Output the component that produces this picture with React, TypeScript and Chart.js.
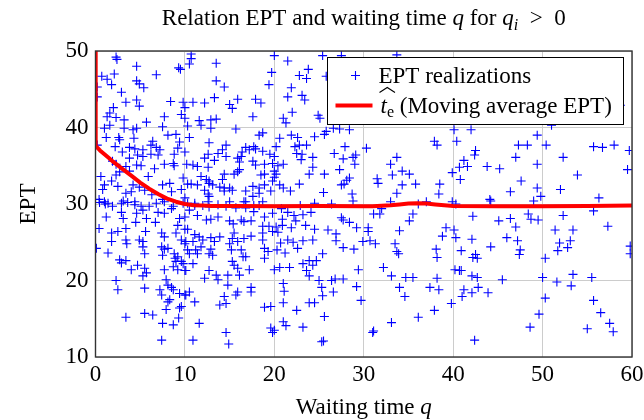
import { useEffect, useRef } from "react";
import { Chart, registerables } from "chart.js";

Chart.register(...registerables);

const FONT = "'Liberation Serif', 'Times New Roman', 'DejaVu Serif', serif";
const FS = 23;

// EPT realizations: [waiting time q, EPT]
const eptPoints: [number, number][] = [
  // q 0-10, EPT 30-50
  [2.3,49.2],[2.4,48.9],[4.6,48],[6.8,46.9],[9.3,47.8],[9.5,47.6],[0.7,46.7],[1.3,46.3],[2.1,47],[4.6,46.1],
  [4.9,45.7],[5.4,45.2],[1.8,45.6],[0.2,45.3],[0.2,44],[2.9,44.6],[3.4,43.3],[4.6,43.6],[4.9,42.8],[8.4,43.4],
  [9.8,43.3],[10,42.6],[2,42.6],[1.6,41.9],[1.3,41.4],[2.3,41.3],[3.2,41],[5.7,40.7],[7.7,41.4],[9.6,41.7],
  [10,41.2],[1,39.9],[1.6,40.3],[3.2,39.9],[4.2,39.7],[4.6,39.9],[7.5,40.1],[2.6,38.7],[2.7,38.4],[1.2,38.7],
  [4.3,38.6],[8.1,39],[9,39.1],[6.4,38.2],[6.2,37.7],[9.4,38.1],[2.2,37.5],[0.2,37.7],[3.8,37.4],[4.4,37.2],
  [5.3,37.1],[6.8,37.4],[7.2,37.1],[8.8,36.5],[9.2,37.3],[10,36.8],[4.7,36.4],[5.3,36.2],[6.2,36.5],[7,36.4],
  [1.9,35.6],[2.3,35.2],[3.8,36],[4.6,35.1],[5.1,35],[8.7,35.3],[8.8,35],[7.7,35.2],[0.6,33.6],[2.3,33.8],
  [2.7,34.2],[3.4,34.9],[3.8,34.3],[5.9,33.6],[1,32.5],[0.8,31.9],[1.8,33],[4.2,32.5],[4.9,32.2],[7.5,32.5],
  [8.3,32.7],[8.5,31.6],[9.8,33.4],[9.6,31.9],[3.4,31.4],[4,31.6],[1,30.3],[1.4,30.1],[0.4,30.6],[3.1,30.4],
  [4.4,30.3],[7.5,30.6],[6.3,31.2],[5.5,31.8],[2.5,32.3],[6.6,34.6],[3.0,36.8],
  // q 0-10, EPT 10-30
  [0.45,30.2],[1.1,30],[1.9,29.7],[2.9,30.1],[3.6,30.2],[4.4,29.9],[5.1,29.7],[6,29.7],[6.8,30.1],[7.7,30.3],
  [8.7,29.7],[9.8,30.1],[2.9,28.9],[4.6,28.8],[5.3,29.2],[7,28.9],[7.7,28.8],[8.5,29.4],[1.2,28.3],[3.1,28.1],
  [4.5,27.6],[5.7,28.1],[6.7,27.6],[9.2,27.2],[10,28.3],[9.4,28.1],[0.4,26.8],[1.8,26.2],[2.5,26.4],[3.4,26.8],
  [5.6,26.4],[7.4,26.2],[7.7,25.7],[9,26.2],[10,26.7],[1.8,25.1],[3.4,25.3],[3.5,24.8],[4.9,25.3],[5.3,25.1],
  [5.3,24.4],[7.4,24.4],[7.7,24.1],[8.1,24.2],[7.5,23.3],[9.6,25.3],[10,24.8],[0.1,24.2],[1.4,23.6],[5.5,23.5],
  [8.8,23.5],[8.9,22.9],[9.2,23.1],[9.6,22.5],[9.8,22.2],[8.7,21.8],[9.2,21.4],[9,22.5],[2.7,22.7],[2.9,22.3],
  [3.4,22.6],[4.7,22],[4,21.4],[5.5,21.6],[5.7,21],[5.3,20.6],[7.7,21.4],[10,21.3],[2.3,20],[2.5,18.8],
  [5.5,19],[7.9,20.1],[8.1,19.4],[8.5,19.1],[8.7,18.8],[7.2,18.8],[7.4,18.1],[9.4,18.3],[10,18.1],[8.3,17.5],
  [8.1,17.2],[9.6,16.6],[9.4,16.4],[7.9,16.2],[5.5,15.7],[6.4,15.5],[3.4,15.2],[9.3,15.1],[7.5,14.4],[8.7,14.2],
  [7.4,12.2],
  // q 10-20, EPT 30-50
  [10.7,49.6],[10.7,49],[10.5,48.3],[13.5,48.4],[20,49.4],[19.7,47.2],[13.5,46.1],[14.4,45.3],[19.4,45.6],[10.9,43.3],
  [12.2,43.2],[13.3,43.9],[15,43],[15.3,42.5],[15.9,43.7],[17.9,43.7],[18.5,43.2],[17.6,41.4],[11.6,40.9],[11.8,40.3],
  [12.9,41],[13.5,41.1],[10.3,40.2],[12.9,39.9],[15.7,39.8],[10.5,38.7],[18.3,39],[18.7,39.3],[12.7,38],[14.6,37.7],
  [14.2,37.1],[13.7,36.6],[16.8,37.4],[17.2,37.1],[17.7,37.5],[17.9,37.2],[16.4,36.8],[18.7,36.9],[19.5,36.5],[20,36.2],
  [12.6,36.5],[12.2,36],[10.9,35.1],[11.4,34.9],[12.6,34.8],[13.3,35.7],[14.6,36.2],[15.9,36],[16.3,36.2],[16.1,35.5],
  [17.6,35.6],[17.9,35.1],[18.9,35.2],[19.8,35.3],[20,34.3],[10.2,35.2],[11.8,33.6],[12.4,33.2],[12.7,33],[14.4,33.9],
  [14.2,33.2],[15.5,33.9],[15.9,34.2],[16.1,34.5],[18.5,33.8],[18.9,33.9],[20,33.5],[19.8,33],[10.3,32.6],[10.7,32.6],
  [11.4,32.5],[12.7,32.7],[13.1,32.5],[13.9,32.2],[14.4,32.1],[15,32.1],[17.6,32.3],[18.3,32.1],[18.9,32.5],[19.6,31.7],
  [12.2,31.8],[12.6,31.3],[12.7,31],[14.4,31.7],[15.3,31.8],[16.8,31.7],[17.6,31],[18.3,31.4],[11.1,30.1],[10,30.8],
  [12.6,30.3],[15,30.3],[16.6,30.3],[18.7,30.3],
  // q 10-20, EPT 10-30
  [10.3,30.1],[11.1,29.8],[12,29.8],[12.7,29.6],[13.7,29.9],[14.6,29.7],[15.7,29.5],[16.8,30.3],[16.8,29.5],[17.7,29.8],
  [18.3,29.8],[10.5,29.2],[11.4,28.5],[12.4,27.9],[12.9,28],[13.7,28.3],[15,27.8],[15.4,27.4],[16.3,27.9],[16.6,27.7],
  [17.4,27.8],[17.7,29],[18.9,28.3],[19.8,28.8],[19.4,27.1],[18.7,27.1],[10.3,26.7],[11.1,26],[11.6,25.7],[12,25.3],
  [11.8,24.4],[10.9,25.1],[12.9,25.6],[13.3,25.1],[13.9,25.7],[12.9,24.1],[13.1,23.3],[12.7,23.5],[15.5,26.2],[15.9,25.1],
  [15,24.8],[15.3,25.5],[16.6,25.5],[17.4,25.8],[18.7,26.2],[18.7,25.3],[18.9,24.2],[19.3,23.8],[19.8,26.4],[10.1,25.1],
  [10.3,24],[10.5,23.5],[11.2,24],[11.4,23.5],[10.9,22.2],[10.1,21.3],[15.2,24],[16.3,24],[16.5,23.1],[16.8,23.1],
  [15.3,22.5],[15.5,22],[15.9,21.6],[16.1,20.7],[12.7,21.3],[13.5,20.7],[13.7,20.1],[12.2,20.3],[17.2,21.4],[20,21.4],
  [18.9,22.9],[14.8,20.7],[14.8,19.4],[14.4,17.9],[14.6,17],[15.9,18.5],[15.7,18.1],[17.4,19.1],[17.4,18.5],[10.5,18.5],
  [10.1,18.1],[11.1,17.2],[13.9,16.8],[18.9,16.5],[19.6,16.6],[11.6,14.4],[14.6,13.2],[14.9,11.7],[10.9,12.2],[19.6,13.8],
  [19.8,13.2],
  // q 20-40
  [25.4,49.4],[27.5,49.4],[21.5,48.7],[23.8,47.6],[23.6,46.4],[22.8,46.8],[25.8,46.7],[21.9,45.2],[21.5,44],[23.1,44.2],
  [23.4,43.6],[22,42],[21,41.2],[21.3,40.6],[24.9,41.6],[25.1,41.2],[26.6,39.9],[27.3,39.8],[28.4,39.7],[33.7,49.5],
  [20.6,38.6],[21.9,39],[22.6,38.7],[24.5,38.8],[25.6,39.1],[25.8,39.5],[20.2,37.5],[22.3,37.5],[22.8,37.7],[23.6,37.7],
  [22.5,36.6],[23.1,36.5],[23,35.8],[24.3,36.1],[26.7,36.6],[27.9,37.5],[27.7,35.9],[28.8,36.1],[29.1,36.4],[29,35.2],
  [30.3,37.3],[21,35.2],[20.4,35.0],[24.3,34.8],[23.9,33.9],[25.6,33.9],[27.3,34.5],[28.4,33.4],[27.8,32.6],[27.5,32.5],
  [28.7,31.3],[28.1,33.1],[20.2,33.9],[20.6,32.5],[21,32.1],[22.8,32.6],[21.8,31.7],[25.5,31.5],[33,35.2],[33.2,33.8],
  [33.7,36.1],[34.3,34.3],[35.1,33.9],[31.5,33.3],[31.6,32.7],[34.3,32.5],[35.8,32.6],[33.7,31.4],[38.5,32.6],[38.4,31.3],
  [37.9,38.2],[38.2,37.7],[36.1,30],[37,30.3],[33,30.3],[32,29.4],[24.5,30.1],[26.4,30],[28.8,30.4],[20.8,29.4],
  [21.5,28.9],[22.2,28.5],[20.9,28],[22.4,27.8],[20.4,26.3],[20.9,27.2],[21.9,26.9],[20.2,27],[20.7,24.9],[21.5,25.3],
  [20.3,24],[21.2,23.6],[22.6,24.2],[23.5,27.2],[23.2,28.6],[24.1,28.9],[22.9,29.8],[27.5,28.2],[27.7,27.9],[28.4,27.6],
  [29.2,26.9],[30.5,26.9],[30.5,26.4],[31.1,28.7],[31.8,28.7],[35.1,27.8],[35.5,28.7],[34,26.5],[24.5,26.7],[26,26.6],
  [26.9,26.1],[26.9,25.2],[24.3,25.3],[23.2,25.2],[22.1,25],[27.7,24.3],[28.9,24.1],[29.9,25.1],[30.7,25.2],[31.3,24.8],
  [33.5,24.8],[33.9,23.5],[33.7,23.8],[38.1,24.1],[38.2,23],[39.2,26.9],[38.8,25.8],[25.4,23.5],[23.9,22.6],[24.3,22],
  [24.7,22.6],[23.2,22.2],[23.6,21.3],[20.6,21.7],[21.7,21.7],[29.4,21.4],[32.2,21.7],[33.1,20.6],[34.7,20.4],[35.5,20.4],
  [23.9,20.6],[25,20],[26.4,20],[26.8,20.2],[27.7,20.2],[38.2,20.3],[38.4,18.8],[37.4,19.1],[34,19.1],[34.6,17.9],
  [21,19.6],[21.1,18.6],[25.3,19.1],[25.4,18],[26.6,18.5],[29.2,19.2],[29.7,17.4],[23.9,17.1],[24.5,17.1],[21,17.1],
  [22.5,16.1],[37.9,16.1],[39.8,17],[36.1,15.2],[25.6,15.3],[21,14.6],[21.3,14.1],[23.2,13.9],[33.1,14.5],[20,13.5],
  [31,13.2],[31.1,13.4],[25.3,12],[25.5,12.1],
  // q 40-60
  [51,40.3],[58.7,42.9],[40.1,39.7],[42,39.7],[40.4,38.2],[49.4,39],[47.3,37.7],[48.3,37.7],[50.4,37.7],[42.5,37],
  [42.4,36.4],[41.2,35.7],[40.7,34.8],[41.6,34.9],[39.9,34.1],[40.8,33.2],[43.8,34.9],[45.2,34.6],[47,36.1],[49.4,35.2],
  [52.3,36.1],[55.7,37.5],[56.7,37.4],[58,37.7],[59.7,37],[59.5,34.5],[53.9,33.8],[47.6,33],[46.4,31.6],[49.4,32.1],
  [49.8,31],[52,31.9],[56.3,30.8],[44.1,30.6],[44.2,30.4],[49,30.4],[39.9,30.3],[40.3,30],[55.7,29.1],[42.2,28.4],
  [45.1,27.8],[46.4,28.1],[47,27],[48.4,28.7],[48.7,28],[49.5,27.9],[52.3,28.5],[57.3,27.1],[51.4,26.6],[53.4,26.6],
  [40.1,26.6],[40.3,25.6],[42.1,25.4],[46,25.6],[47.2,25.2],[51.9,24.9],[53.1,25.2],[52.8,24.3],[51.7,23.9],[44.2,24.4],
  [47.5,24],[47.4,23.4],[40.9,23.9],[42.2,23],[42.7,22.9],[42.5,23.4],[50.3,22.9],[59.8,24.5],[59.8,23.5],[40.2,21.4],
  [40.7,21.3],[40.9,21.3],[42.1,20.6],[42.7,20.4],[42.8,19.1],[45.5,20.1],[50,20.4],[51.6,19.8],[53.4,20.8],[53.2,19.3],
  [55.5,20.4],[41.2,18.8],[41,17.9],[42.1,18.4],[43.9,18.4],[50.3,17.7],[55.7,17.4],[56.5,15.8],[49.6,15.6],[48.6,13.9],
  [55,13.7],[57.5,14.4],[57.9,13.3],[42.4,12.2]
];

// Moving average EPT
const maQ = [0, 0.02, 0.5, 1, 1.5, 2, 3, 4, 5, 6, 7, 8, 9, 10, 11, 12, 13, 14, 16, 20, 25, 30, 31, 32, 33, 34, 35, 36, 37, 38, 40, 45, 50, 55, 60];
const maEPT = [50, 37.6, 37.0, 36.5, 36.0, 35.5, 34.6, 33.7, 32.8, 32.0, 31.3, 30.7, 30.3, 30.0, 29.85, 29.8, 29.75, 29.75, 29.75, 29.7, 29.75, 29.7, 29.72, 29.78, 29.85, 29.95, 30.05, 30.1, 30.05, 29.95, 29.75, 29.7, 29.7, 29.75, 29.8];

const xTicks = [0, 10, 20, 30, 40, 50, 60];
const yTicks = [10, 20, 30, 40, 50];

type Seg = { t: string; it?: boolean; sub?: boolean };

function segFont(s: Seg, size: number) {
  return `${s.it ? "italic " : ""}${s.sub ? Math.round(size * 0.7) : size}px ${FONT}`;
}

function drawSegs(ctx: CanvasRenderingContext2D, segs: Seg[], x: number, y: number, size: number, align: "center" | "left") {
  const widths = segs.map((s) => {
    ctx.font = segFont(s, size);
    return ctx.measureText(s.t).width;
  });
  const total = widths.reduce((a, b) => a + b, 0);
  let cx = align === "center" ? x - total / 2 : x;
  ctx.textAlign = "left";
  ctx.textBaseline = "alphabetic";
  const pos: number[] = [];
  segs.forEach((s, i) => {
    ctx.font = segFont(s, size);
    pos.push(cx);
    ctx.fillText(s.t, cx, y + (s.sub ? size * 0.2 : 0));
    cx += widths[i];
  });
  pos.push(cx);
  return pos;
}

const decorPlugin = {
  id: "decor",
  afterDatasetsDraw(chart: any) {
    const { ctx, chartArea: a } = chart;
    ctx.save();
    ctx.strokeStyle = "#333";
    ctx.lineWidth = 1.4;
    ctx.strokeRect(a.left, a.top, a.right - a.left, a.bottom - a.top);
    ctx.restore();
  },
  afterDraw(chart: any) {
    const { ctx, chartArea: a } = chart;
    const cx = (a.left + a.right) / 2;
    ctx.save();
    ctx.fillStyle = "#000";
    // title
    drawSegs(ctx, [
      { t: "Relation EPT and waiting time " },
      { t: "q", it: true },
      { t: " for " },
      { t: "q", it: true },
      { t: "i", it: true, sub: true },
      { t: "  >  0" },
    ], cx, a.top - 26, FS, "center");
    // x title
    drawSegs(ctx, [{ t: "Waiting time " }, { t: "q", it: true }], cx, a.bottom + 57, FS, "center");
    // y title
    ctx.save();
    ctx.translate(35, (a.top + a.bottom) / 2);
    ctx.rotate(-Math.PI / 2);
    drawSegs(ctx, [{ t: "EPT" }], 0, 0, FS, "center");
    ctx.restore();

    // legend
    const w = 296, h = 67;
    const lx = a.right - 305 + 0.5, ly = a.top + 6 + 0.5;
    ctx.fillStyle = "#fff";
    ctx.fillRect(lx, ly, w, h);
    ctx.strokeStyle = "#000";
    ctx.lineWidth = 1;
    ctx.strokeRect(lx, ly, w, h);
    // entry 1
    const mx = lx + 28, my = ly + 18;
    ctx.strokeStyle = "#0000ff";
    ctx.lineWidth = 1.1;
    ctx.beginPath();
    ctx.moveTo(mx - 4.5, my);
    ctx.lineTo(mx + 4.5, my);
    ctx.moveTo(mx, my - 4.5);
    ctx.lineTo(mx, my + 4.5);
    ctx.stroke();
    ctx.fillStyle = "#000";
    drawSegs(ctx, [{ t: "EPT realizations" }], lx + 51, ly + 25, FS, "left");
    // entry 2
    ctx.strokeStyle = "#ff0000";
    ctx.lineWidth = 4;
    ctx.beginPath();
    ctx.moveTo(lx + 8, ly + 48);
    ctx.lineTo(lx + 45, ly + 48);
    ctx.stroke();
    ctx.fillStyle = "#000";
    const p = drawSegs(ctx, [
      { t: "t", it: true },
      { t: "e", sub: true },
      { t: " (Moving average EPT)" },
    ], lx + 53, ly + 55, FS, "left");
    // wide hat over t_e
    const hx0 = p[0] - 1, hx1 = p[2] + 1, hy = ly + 35;
    ctx.strokeStyle = "#000";
    ctx.lineWidth = 1.1;
    ctx.beginPath();
    ctx.moveTo(hx0, hy);
    ctx.lineTo((hx0 + hx1) / 2, hy - 5);
    ctx.lineTo(hx1, hy);
    ctx.stroke();
    ctx.restore();
  },
};

export default function App() {
  const ref = useRef<HTMLCanvasElement | null>(null);
  useEffect(() => {
    if (!ref.current) return;
    const chart = new Chart(ref.current, {
      type: "scatter",
      data: {
        datasets: [
          {
            label: "t_e (Moving average EPT)",
            type: "line",
            data: maQ.map((q, i) => ({ x: q, y: maEPT[i] })),
            borderColor: "#ff0000",
            borderWidth: 4,
            borderJoinStyle: "round",
            pointRadius: 0,
            fill: false,
            tension: 0,
            order: 0,
          } as any,
          {
            label: "EPT realizations",
            data: eptPoints.map(([x, y]) => ({ x, y })),
            pointStyle: "cross",
            pointRadius: 4.5,
            pointBorderColor: "#0000ff",
            pointBorderWidth: 1.1,
            showLine: false,
            order: 1,
          } as any,
        ],
      },
      options: {
        animation: false,
        responsive: false,
        layout: { padding: { top: 51, right: 12, bottom: 0, left: 0 } },
        plugins: { legend: { display: false }, tooltip: { enabled: false }, title: { display: false } },
        scales: {
          x: {
            type: "linear",
            min: 0,
            max: 60,
            afterBuildTicks: (s: any) => {
              s.ticks = xTicks.map((v) => ({ value: v }));
            },
            afterFit: (s: any) => {
              s.height = 63;
              s.paddingRight = 0;
              s.paddingLeft = 0;
            },
            grid: { color: "#cccccc", lineWidth: 1, drawTicks: false },
            border: { display: false },
            ticks: { color: "#000", font: { family: FONT, size: FS }, padding: 4, maxRotation: 0 },
          },
          y: {
            type: "linear",
            min: 10,
            max: 50,
            afterBuildTicks: (s: any) => {
              s.ticks = yTicks.map((v) => ({ value: v }));
            },
            afterFit: (s: any) => {
              s.width = 95.5;
              s.paddingTop = 0;
              s.paddingBottom = 0;
            },
            grid: { color: "#cccccc", lineWidth: 1, drawTicks: false },
            border: { display: false },
            ticks: { color: "#000", font: { family: FONT, size: FS }, padding: 7 },
          },
        },
      },
      plugins: [decorPlugin],
    });
    return () => chart.destroy();
  }, []);
  return (
    <div style={{ position: "absolute", left: 0, top: 0, width: 644, height: 420, background: "#fff" }}>
      <canvas ref={ref} width={644} height={420} style={{ display: "block" }} />
    </div>
  );
}
